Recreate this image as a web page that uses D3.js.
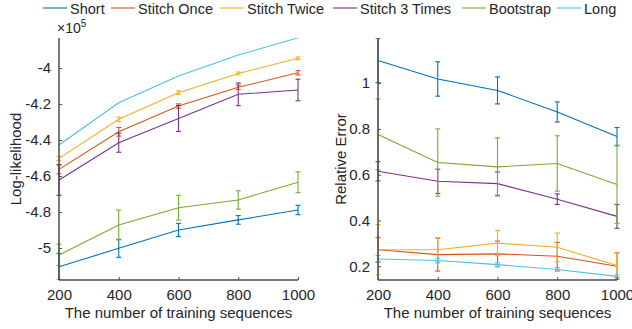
<!DOCTYPE html>
<html>
<head>
<meta charset="utf-8">
<script src="https://cdn.jsdelivr.net/npm/d3@7"></script>
<style>
  body { margin: 0; background: #fff; }
  svg { display: block; font-family: "Liberation Sans", Arial, Helvetica, sans-serif; }
</style>
</head>
<body>
<svg id="chart" width="632" height="329"></svg>
<script>
const sizes = [200, 400, 600, 800, 1000];
const seriesNames = ["Short", "Stitch Once", "Stitch Twice", "Stitch 3 Times", "Bootstrap", "Long"];
const seriesColors = ["#0072BD", "#D95319", "#EDB120", "#7E2F8E", "#77AC30", "#4DBEEE"];

// log-likelihood, x 10^5
const llShort = [-5.104, -5.002, -4.900, -4.844, -4.789];
const llOnce = [-4.563, -4.354, -4.211, -4.107, -4.026];
const llTwice = [-4.502, -4.285, -4.137, -4.030, -3.946];
const llThree = [-4.622, -4.415, -4.280, -4.146, -4.122];
const llBoot = [-5.039, -4.872, -4.776, -4.733, -4.635];
const llLong = [-4.428, -4.193, -4.044, -3.928, -3.832];

const llShortErr = [0.074, 0.050, 0.037, 0.024, 0.026];
const llOnceErr = [0.025, 0.024, 0.012, 0.012, 0.012];
const llTwiceErr = [0.012, 0.012, 0.010, 0.008, 0.008];
const llThreeErr = [0.085, 0.053, 0.072, 0.063, 0.060];
const llBootErr = [0.060, 0.083, 0.069, 0.051, 0.058];
const llLongErr = [0, 0, 0, 0, 0];

// relative error
const reShort = [1.099, 1.018, 0.968, 0.874, 0.767];
const reOnce = [0.272, 0.251, 0.254, 0.244, 0.200];
const reTwice = [0.272, 0.272, 0.301, 0.283, 0.203];
const reThree = [0.615, 0.571, 0.561, 0.493, 0.418];
const reBoot = [0.776, 0.653, 0.634, 0.649, 0.557];
const reLong = [0.232, 0.225, 0.207, 0.186, 0.156];

const reShortErr = [0.097, 0.075, 0.059, 0.044, 0.039];
const reOnceErr = [0.053, 0.072, 0.056, 0.060, 0.059];
const reTwiceErr = [0.110, 0.053, 0.055, 0.062, 0.055];
const reThreeErr = [0.042, 0.053, 0.051, 0.023, 0.052];
const reBootErr = [0.155, 0.147, 0.127, 0.121, 0.169];
const reLongErr = [0.015, 0.010, 0.008, 0.008, 0.006];

const llTicks = [-5, -4.8, -4.6, -4.4, -4.2, -4];
const reTicks = [0.2, 0.4, 0.6, 0.8, 1];

const svg = d3.select("#chart");
const textColor = "#262626";
const axisColor = "#4d4d4d";
const fontSize = "15px";

function drawPanel(id, left, right, yDomain, means, errs, yTicks, yLabel, labelOffset) {
  const top = 38, bottom = 280;
  const x = d3.scaleLinear().domain([200, 1000]).range([left, right]);
  const y = d3.scaleLinear().domain(yDomain).range([bottom, top]);

  svg.append("clipPath").attr("id", "clip-" + id)
    .append("rect")
    .attr("x", left - 4).attr("y", top)
    .attr("width", right - left + 8).attr("height", bottom - top);

  const plot = svg.append("g").attr("clip-path", "url(#clip-" + id + ")");

  means.forEach((vals, i) => {
    const pts = sizes.map((s, j) => ({ s: s, v: vals[j], e: errs[i][j] }));
    const g = plot.append("g");
    g.append("path")
      .datum(pts)
      .attr("fill", "none")
      .attr("stroke", seriesColors[i])
      .attr("stroke-width", 1.1)
      .attr("d", d3.line().x(d => x(d.s)).y(d => y(d.v)));

    const bars = g.selectAll(".eb")
      .data(pts.filter(d => d.e > 0))
      .join("g")
      .attr("stroke", seriesColors[i])
      .attr("stroke-width", 1.1);
    bars.append("line")
      .attr("x1", d => x(d.s)).attr("x2", d => x(d.s))
      .attr("y1", d => y(d.v - d.e)).attr("y2", d => y(d.v + d.e));
    bars.append("line")
      .attr("x1", d => x(d.s) - 2.5).attr("x2", d => x(d.s) + 2.5)
      .attr("y1", d => y(d.v - d.e)).attr("y2", d => y(d.v - d.e));
    bars.append("line")
      .attr("x1", d => x(d.s) - 2.5).attr("x2", d => x(d.s) + 2.5)
      .attr("y1", d => y(d.v + d.e)).attr("y2", d => y(d.v + d.e));
  });

  const xAxis = svg.append("g")
    .attr("transform", "translate(0," + bottom + ")")
    .call(d3.axisBottom(x).tickValues(sizes).tickFormat(d3.format("d"))
      .tickSizeInner(-3).tickSizeOuter(0).tickPadding(9));
  const yAxis = svg.append("g")
    .attr("transform", "translate(" + left + ",0)")
    .call(d3.axisLeft(y).tickValues(yTicks).tickFormat(d => String(d))
      .tickSizeInner(-3).tickSizeOuter(0).tickPadding(8));

  [xAxis, yAxis].forEach(a => {
    a.select(".domain").attr("stroke", axisColor).attr("stroke-width", 1.5);
    a.selectAll(".tick line").attr("stroke", axisColor);
    a.selectAll(".tick text").attr("fill", textColor).style("font-size", fontSize);
  });
  yAxis.select(".domain").attr("d", "M0," + bottom + "V" + top);
  xAxis.select(".domain").attr("d", "M" + left + ",0H" + right);

  svg.append("text")
    .attr("x", (left + right) / 2).attr("y", 318)
    .attr("text-anchor", "middle")
    .attr("fill", textColor)
    .style("font-size", fontSize)
    .text("The number of training sequences");

  svg.append("text")
    .attr("transform", "translate(" + (left - labelOffset) + "," + ((top + bottom) / 2) + ") rotate(-90)")
    .attr("text-anchor", "middle")
    .attr("fill", textColor)
    .style("font-size", fontSize)
    .text(yLabel);
}

drawPanel("ll", 59, 298, [-5.178, -3.833],
  [llShort, llOnce, llTwice, llThree, llBoot, llLong],
  [llShortErr, llOnceErr, llTwiceErr, llThreeErr, llBootErr, llLongErr],
  llTicks, "Log-likelihood", 38);

drawPanel("re", 378, 617, [0.14, 1.197],
  [reShort, reOnce, reTwice, reThree, reBoot, reLong],
  [reShortErr, reOnceErr, reTwiceErr, reThreeErr, reBootErr, reLongErr],
  reTicks, "Relative Error", 32);

// exponent label
const expLabel = svg.append("text")
  .attr("x", 57).attr("y", 33)
  .attr("fill", textColor)
  .style("font-size", "14px");
expLabel.append("tspan").text("\u00d710");
expLabel.append("tspan").attr("dy", -6).style("font-size", "10px").text("5");

// legend
const legendX = [43, 111, 220, 333, 462, 557];
const legend = svg.append("g");
seriesNames.forEach((name, i) => {
  legend.append("line")
    .attr("x1", legendX[i]).attr("x2", legendX[i] + 24)
    .attr("y1", 8).attr("y2", 8)
    .attr("stroke", seriesColors[i])
    .attr("stroke-width", 1.1);
  legend.append("text")
    .attr("x", legendX[i] + 27).attr("y", 13.5)
    .attr("fill", textColor)
    .style("font-size", "14.5px")
    .text(name);
});
</script>
</body>
</html>
